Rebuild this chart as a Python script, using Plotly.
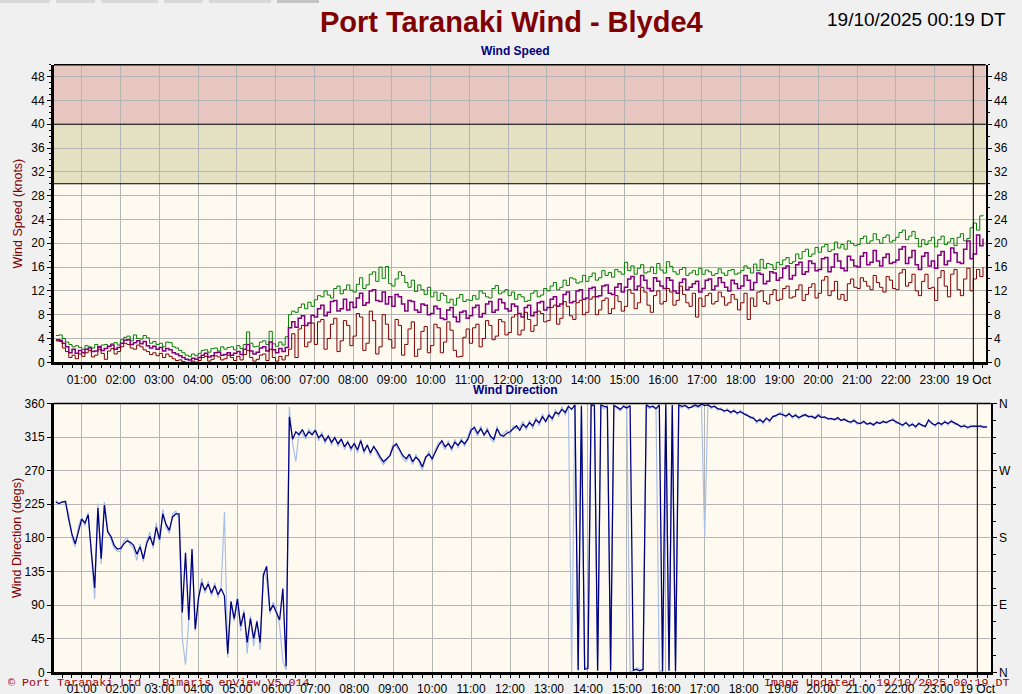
import pandas as pd
import plotly.graph_objects as go

# ---------------- data (5-minute samples from 2025-10-18 00:20) ----------------
START = "2025-10-18 00:20"
HOUR_LABELS = ["01:00", "02:00", "03:00", "04:00", "05:00", "06:00", "07:00", "08:00",
               "09:00", "10:00", "11:00", "12:00", "13:00", "14:00", "15:00", "16:00",
               "17:00", "18:00", "19:00", "20:00", "21:00", "22:00", "23:00", "19 Oct"]
SPEED_TICKS = [0, 4, 8, 12, 16, 20, 24, 28, 32, 36, 40, 44, 48]
DIR_TICKS = [0, 45, 90, 135, 180, 225, 270, 315, 360]
COMPASS_VALS = [0, 90, 180, 270, 360]
COMPASS_TEXT = ["N", "E", "S", "W", "N"]

GUST_KNOTS = [
    [4.5, 4.6, 4.0, 3.4, 3.0, 2.6, 2.8, 2.5],
    [2.2, 2.8, 2.6, 2.4, 3.0, 2.5, 2.9, 3.0, 2.6, 3.1, 3.3, 2.9],
    [3.8, 4.2, 4.4, 3.6, 4.6, 4.0, 3.9, 4.5, 4.1, 3.2, 3.5, 3.0],
    [3.2, 2.6, 3.4, 3.3, 2.6, 2.4, 2.0, 1.6, 1.2, 1.0, 1.4, 1.1],
    [1.5, 2.0, 2.1, 1.7, 2.3, 2.4, 1.9, 2.6, 2.2, 2.5, 2.6, 2.1],
    [2.8, 2.3, 3.0, 5.1, 3.2, 2.6, 2.7, 3.4, 3.6, 3.0, 5.2, 3.1],
    [2.7, 3.4, 2.9, 4.3, 8.0, 8.6, 8.4, 9.2, 9.8, 9.0, 10.1, 9.4],
    [10.5, 11.2, 11.0, 12.0, 11.3, 10.8, 12.4, 12.8, 11.5, 12.2, 13.0, 12.1],
    [11.8, 13.1, 14.2, 12.4, 13.0, 14.8, 15.2, 13.6, 16.0, 14.1, 16.1, 13.2],
    [12.8, 14.0, 15.2, 14.6, 13.4, 12.6, 13.8, 11.9, 13.0, 12.2, 11.4, 12.6],
    [11.0, 11.8, 10.4, 11.6, 11.2, 10.0, 10.6, 9.6, 10.8, 11.4, 10.2, 10.5],
    [10.4, 11.2, 10.6, 12.0, 11.6, 11.0, 10.8, 12.4, 12.9, 11.5, 11.8, 12.2],
    [11.2, 11.8, 10.6, 11.4, 11.0, 10.2, 10.4, 11.6, 12.0, 11.0, 11.3, 12.4],
    [12.0, 12.8, 13.4, 12.2, 12.6, 13.8, 12.9, 14.2, 14.0, 13.3, 13.5, 14.6],
    [13.6, 14.4, 15.0, 13.8, 14.2, 15.4, 14.6, 15.1, 14.3, 15.6, 15.2, 14.8],
    [16.8, 15.4, 16.2, 14.8, 15.8, 16.4, 15.0, 15.2, 16.0, 14.9, 16.6, 15.5],
    [15.0, 16.9, 16.1, 15.2, 14.8, 15.6, 15.9, 14.6, 15.0, 15.4, 14.7, 15.8],
    [14.8, 15.5, 15.2, 14.6, 14.9, 15.7, 15.0, 14.6, 15.4, 15.6, 14.8, 15.0],
    [15.4, 16.2, 15.8, 15.0, 16.5, 15.4, 17.3, 15.8, 16.6, 16.4, 15.6, 16.8],
    [16.4, 17.2, 17.6, 16.6, 16.9, 18.2, 17.4, 18.6, 19.0, 17.8, 18.2, 19.3],
    [18.5, 19.4, 19.8, 18.6, 18.9, 20.2, 19.2, 19.8, 19.0, 20.4, 20.0, 19.6],
    [19.8, 20.8, 21.2, 20.0, 20.4, 21.6, 20.6, 20.0, 21.0, 21.4, 20.2, 20.5],
    [21.0, 21.8, 22.2, 20.6, 21.2, 22.0, 20.8, 19.4, 20.6, 19.8, 20.4, 21.0],
    [19.4, 20.6, 21.2, 19.8, 20.2, 20.8, 19.6, 21.0, 21.6, 20.4, 20.8, 22.6],
    [23.4, 22.2, 24.6, 24.8],
]

AVG_KNOTS = [
    [3.8, 3.7, 3.2, 2.6, 1.6, 2.2, 1.5, 2.0],
    [1.6, 2.2, 2.4, 1.8, 1.9, 2.6, 2.0, 2.3, 2.7, 2.9, 2.2, 2.5],
    [3.2, 3.7, 3.8, 3.0, 3.3, 3.6, 3.1, 3.5, 2.8, 2.4, 2.7, 2.2],
    [2.5, 1.9, 2.3, 2.1, 1.6, 1.4, 1.1, 0.8, 0.5, 0.4, 0.7, 0.5],
    [0.8, 1.2, 1.5, 0.9, 1.1, 1.6, 1.7, 1.2, 1.3, 1.6, 1.2, 1.5],
    [1.8, 1.3, 2.2, 3.0, 1.9, 1.4, 1.7, 2.4, 2.6, 1.9, 3.4, 2.1],
    [1.6, 2.3, 1.8, 2.5, 5.8, 6.8, 5.9, 7.4, 7.8, 6.2, 6.6, 7.9],
    [7.6, 9.0, 9.6, 7.8, 8.4, 10.2, 10.4, 8.6, 9.0, 10.6, 8.8, 10.1],
    [9.2, 10.8, 11.6, 9.6, 10.0, 12.0, 12.2, 10.4, 10.2, 11.8, 9.8, 11.0],
    [9.4, 11.4, 11.0, 9.8, 8.6, 10.4, 10.2, 8.8, 8.4, 9.8, 9.6, 8.0],
    [8.2, 9.4, 9.0, 7.4, 7.2, 8.8, 9.2, 7.6, 6.8, 8.4, 8.6, 7.4],
    [7.8, 9.2, 9.6, 7.6, 8.2, 9.8, 10.2, 8.4, 8.8, 10.6, 10.0, 9.0],
    [8.6, 9.8, 9.4, 8.2, 7.6, 9.2, 9.6, 7.8, 8.4, 10.0, 10.2, 8.8],
    [9.2, 10.6, 11.0, 9.4, 9.8, 11.4, 11.8, 10.0, 10.2, 12.0, 12.2, 10.6],
    [10.8, 12.4, 12.6, 11.0, 11.2, 12.8, 13.0, 11.6, 11.4, 12.6, 13.2, 11.8],
    [12.6, 14.0, 14.4, 12.2, 12.8, 14.6, 13.8, 12.4, 12.0, 14.2, 13.6, 12.8],
    [12.4, 14.2, 13.8, 12.0, 11.6, 13.4, 14.0, 12.2, 12.6, 13.2, 13.6, 11.8],
    [12.4, 13.8, 14.0, 12.2, 12.8, 14.2, 13.4, 12.6, 12.0, 13.8, 13.2, 12.4],
    [12.8, 14.6, 13.8, 12.2, 13.4, 15.0, 14.8, 13.2, 13.6, 15.2, 15.0, 13.8],
    [14.2, 15.8, 16.2, 14.0, 14.6, 16.4, 16.8, 14.8, 15.2, 17.0, 16.6, 15.4],
    [15.6, 17.4, 17.6, 15.2, 16.0, 18.2, 17.0, 15.8, 15.4, 17.8, 17.2, 16.2],
    [16.0, 17.8, 18.4, 16.4, 16.8, 18.8, 17.0, 16.2, 17.6, 18.2, 16.6, 16.8],
    [17.2, 19.0, 19.4, 16.6, 17.6, 18.8, 16.4, 15.6, 17.8, 18.4, 16.2, 17.0],
    [15.8, 18.0, 18.6, 16.4, 17.0, 19.2, 18.4, 16.8, 16.6, 19.0, 20.4, 17.4],
    [18.2, 21.4, 19.6, 20.8],
]

MIN_KNOTS = [
    [3.6, 3.5, 2.4, 1.8, 0.8, 1.2, 0.6, 1.4],
    [1.0, 1.6, 2.0, 0.9, 1.2, 2.2, 1.5, 0.5, 1.9, 2.3, 1.4, 1.8],
    [2.6, 3.2, 3.0, 2.4, 2.2, 2.9, 2.6, 2.1, 1.8, 1.3, 1.6, 1.1],
    [1.5, 0.8, 1.4, 1.0, 0.6, 0.3, 0.4, 0.1, 0.0, 0.0, 0.2, 0.0],
    [0.3, 0.8, 1.0, 0.2, 0.5, 1.1, 0.9, 0.4, 0.6, 1.2, 0.8, 0.3],
    [1.0, 0.4, 1.3, 2.0, 0.8, 0.2, 0.5, 1.2, 1.4, 0.3, 2.2, 0.8],
    [0.2, 1.0, 0.4, 1.1, 2.2, 4.8, 0.8, 5.6, 6.2, 2.6, 3.4, 6.6],
    [3.0, 6.8, 7.2, 2.2, 4.0, 6.4, 7.4, 1.8, 3.6, 7.0, 6.2, 2.8],
    [4.4, 8.2, 7.6, 2.0, 3.2, 8.6, 7.0, 1.4, 2.6, 8.0, 6.4, 3.8],
    [2.4, 7.2, 6.2, 1.2, 3.0, 5.6, 6.8, 1.0, 2.2, 5.2, 6.0, 1.6],
    [2.8, 6.4, 5.8, 1.6, 3.4, 6.8, 5.4, 2.0, 0.9, 1.0, 4.2, 5.6],
    [3.2, 5.8, 6.4, 2.6, 4.0, 7.0, 6.2, 3.8, 4.4, 7.2, 6.8, 4.6],
    [5.0, 7.6, 8.0, 4.6, 5.4, 8.4, 7.2, 5.2, 6.2, 8.6, 8.2, 6.8],
    [7.0, 9.2, 9.6, 6.4, 7.4, 10.2, 9.4, 7.8, 7.2, 10.0, 10.4, 8.0],
    [8.4, 10.6, 11.0, 8.0, 8.8, 10.4, 10.8, 8.2, 9.0, 11.2, 10.2, 8.6],
    [9.4, 12.2, 11.6, 9.0, 10.0, 12.6, 11.8, 9.6, 8.4, 11.2, 12.0, 9.8],
    [10.2, 12.4, 11.8, 9.6, 10.4, 12.8, 11.4, 10.0, 9.4, 11.6, 7.6, 10.8],
    [9.4, 11.2, 11.6, 9.8, 10.2, 11.8, 11.0, 9.6, 10.0, 11.4, 10.6, 8.8],
    [10.0, 11.6, 7.2, 10.8, 9.4, 11.8, 12.0, 10.2, 9.8, 11.4, 12.2, 10.4],
    [10.6, 12.4, 12.8, 10.8, 11.0, 12.2, 13.0, 10.4, 11.4, 12.6, 13.2, 10.8],
    [11.6, 13.8, 14.4, 11.2, 12.0, 13.6, 10.6, 11.4, 10.4, 13.2, 14.0, 12.6],
    [12.4, 14.2, 13.6, 12.8, 12.2, 14.6, 13.4, 12.6, 11.8, 14.4, 13.8, 12.4],
    [12.2, 15.0, 15.6, 12.8, 13.4, 14.8, 12.0, 11.2, 13.6, 14.8, 12.4, 12.6],
    [10.4, 14.2, 15.4, 12.8, 11.0, 14.8, 15.6, 12.2, 11.2, 14.0, 15.8, 12.0],
    [14.0, 15.6, 14.4, 16.0],
]

DIR_DEGS = [
    [228, 226, 228, 229, 205, 185, 172, 190],
    [205, 200, 211, 160, 113, 220, 152, 224, 188, 182, 170, 165],
    [166, 172, 176, 174, 170, 158, 168, 152, 172, 182, 170, 194],
    [178, 212, 198, 190, 208, 212, 212, 80, 160, 70, 165, 58],
    [100, 120, 110, 118, 106, 116, 104, 112, 102, 25, 95, 72],
    [98, 62, 80, 40, 72, 45, 68, 40, 130, 142, 82, 90],
    [80, 70, 112, 8, 342, 312, 322, 318, 325, 316, 322, 318],
    [324, 314, 318, 310, 316, 308, 314, 306, 312, 302, 308, 300],
    [306, 298, 310, 296, 304, 294, 302, 296, 288, 282, 286, 290],
    [302, 306, 298, 290, 286, 292, 282, 288, 284, 275, 288, 292],
    [286, 296, 304, 310, 302, 306, 300, 308, 304, 310, 306, 312],
    [324, 328, 320, 326, 318, 324, 316, 312, 326, 318, 316, 320],
    [322, 326, 330, 324, 332, 328, 334, 330, 338, 334, 342, 336],
    [344, 340, 348, 346, 352, 348, 356, 352, 358, 3, 357, 4],
    [5, 358, 357, 2, 358, 356, 355, 2, 357, 355, 352, 356],
    [354, 357, 3, 4, 2, 4, 358, 355, 356, 353, 358, 1],
    [359, 2, 358, 1, 358, 356, 357, 354, 355, 358, 356, 359],
    [357, 358, 355, 356, 353, 352, 350, 351, 348, 350, 347, 349],
    [346, 344, 342, 340, 336, 338, 335, 340, 337, 342, 344, 346],
    [345, 343, 346, 342, 344, 341, 343, 345, 342, 343, 340, 344],
    [341, 342, 339, 340, 338, 341, 337, 339, 336, 335, 337, 334],
    [333, 336, 332, 334, 331, 335, 333, 336, 334, 337, 338, 335],
    [333, 331, 334, 330, 332, 329, 333, 331, 329, 338, 333, 331],
    [334, 332, 335, 333, 336, 334, 331, 329, 330, 328, 329, 330],
    [329, 330, 328, 329],
]

DIR_SPREAD_DEGS = [
    [230, 225, 229, 226, 212, 180, 168, 196],
    [208, 196, 214, 152, 98, 226, 145, 228, 192, 178, 166, 162],
    [162, 176, 180, 170, 166, 150, 172, 148, 176, 188, 166, 200],
    [172, 218, 194, 186, 212, 216, 205, 45, 10, 68, 158, 55],
    [96, 126, 106, 122, 102, 120, 100, 116, 215, 20, 92, 68],
    [102, 55, 84, 25, 76, 35, 70, 30, 136, 125, 78, 94],
    [84, 62, 15, 3, 355, 306, 282, 322, 320, 312, 326, 320],
    [326, 310, 322, 306, 318, 304, 316, 302, 314, 298, 310, 296],
    [308, 294, 312, 292, 306, 290, 304, 292, 284, 278, 284, 292],
    [306, 302, 296, 286, 282, 290, 278, 292, 280, 271, 286, 296],
    [282, 298, 308, 306, 298, 310, 296, 312, 300, 314, 302, 316],
    [328, 324, 316, 330, 316, 328, 312, 308, 330, 316, 320, 324],
    [318, 330, 326, 328, 336, 324, 338, 326, 342, 330, 346, 334],
    [348, 336, 352, 342, 356, 344, 356, 0, 358, 2, 355, 6],
    [8, 355, 359, 3, 356, 353, 358, 0, 359, 353, 350, 358],
    [352, 0, 2, 6, 4, 2, 356, 353, 358, 351, 0, 3],
    [357, 4, 356, 3, 356, 354, 359, 352, 357, 356, 354, 357],
    [182, 360, 353, 358, 351, 354, 348, 353, 346, 352, 345, 351],
    [344, 346, 340, 342, 333, 340, 332, 342, 334, 344, 342, 348],
    [347, 341, 348, 340, 346, 339, 345, 343, 344, 341, 342, 346],
    [343, 340, 341, 338, 340, 339, 339, 337, 338, 333, 339, 332],
    [335, 334, 334, 332, 333, 333, 335, 334, 336, 335, 340, 333],
    [335, 329, 336, 328, 334, 327, 335, 329, 331, 336, 335, 329],
    [336, 330, 337, 331, 338, 332, 333, 327, 332, 326, 331, 328],
    [331, 328, 330, 327],
]


def flat(blocks):
    return [v for b in blocks for v in b]


def times_for(vals):
    return pd.date_range(START, periods=len(vals), freq="5min")


gust = flat(GUST_KNOTS)
avg = flat(AVG_KNOTS)
mn = flat(MIN_KNOTS)
wdir = flat(DIR_DEGS)
wdir_sp = flat(DIR_SPREAD_DEGS)

HOUR_TICKS = pd.date_range("2025-10-18 01:00", periods=len(HOUR_LABELS), freq="h")
MIDNIGHT = pd.Timestamp("2025-10-19 00:00")
TOP_RANGE = [pd.Timestamp("2025-10-18 00:17:06"), pd.Timestamp("2025-10-19 00:19:12")]
BOT_RANGE = [pd.Timestamp("2025-10-18 00:17:20"), pd.Timestamp("2025-10-19 00:20:40")]

# ---------------- style ----------------
W, H = 1022, 694
PAGE_BG = "#F0F0F0"
PLOT_BG = "#FFFAF0"
GRID = "#B4B4B4"
FONT = "Liberation Sans, Arial, sans-serif"


def px_x(x):
    return x / W


def px_y(y):
    return 1 - y / H


TOP_DOM_X = [px_x(54), px_x(985.7)]
TOP_DOM_Y = [px_y(362.3), px_y(64.7)]
BOT_DOM_X = [px_x(54), px_x(990.7)]
BOT_DOM_Y = [px_y(672.3), px_y(403.4)]

fig = go.Figure()

fig.add_trace(go.Scatter(x=times_for(gust), y=gust, mode="lines", line=dict(color="#008000", width=1, shape="hv"),
                         xaxis="x", yaxis="y", hoverinfo="skip", showlegend=False))
fig.add_trace(go.Scatter(x=times_for(avg), y=avg, mode="lines", line=dict(color="#800080", width=1.5, shape="hv"),
                         xaxis="x", yaxis="y", hoverinfo="skip", showlegend=False))
fig.add_trace(go.Scatter(x=times_for(mn), y=mn, mode="lines", line=dict(color="#800000", width=1, shape="hv"),
                         xaxis="x", yaxis="y", hoverinfo="skip", showlegend=False))
fig.add_trace(go.Scatter(x=times_for(wdir_sp), y=wdir_sp, mode="lines", line=dict(color="#A9BFE6", width=1.2),
                         xaxis="x2", yaxis="y3", hoverinfo="skip", showlegend=False))
fig.add_trace(go.Scatter(x=times_for(wdir), y=wdir, mode="lines", line=dict(color="#000080", width=1.3),
                         xaxis="x2", yaxis="y3", hoverinfo="skip", showlegend=False))
# empty traces so that the right-hand (overlaying) axes get drawn
fig.add_trace(go.Scatter(x=[], y=[], mode="lines", xaxis="x", yaxis="y2", hoverinfo="skip", showlegend=False))
fig.add_trace(go.Scatter(x=[], y=[], mode="lines", xaxis="x2", yaxis="y4", hoverinfo="skip", showlegend=False))

tickfont = dict(family=FONT, size=12, color="black")
common_x = dict(type="date", tickmode="array", tickvals=HOUR_TICKS, ticktext=HOUR_LABELS, automargin=False,
                showgrid=True, gridcolor=GRID, gridwidth=1, showline=True, linecolor="black", linewidth=3,
                ticks="outside", ticklen=4, tickcolor="black", tickfont=tickfont, zeroline=False,
                minor=dict(ticks="outside", ticklen=3, dtick=15 * 60 * 1000, tickcolor="black", showgrid=False),
                fixedrange=True)

fig.update_layout(
    width=W, height=H, autosize=False,
    margin=dict(l=0, r=0, t=0, b=0, pad=0),
    paper_bgcolor=PAGE_BG, plot_bgcolor=PLOT_BG,
    font=dict(family=FONT, size=12, color="black"),
    showlegend=False,
    xaxis=dict(common_x, domain=TOP_DOM_X, anchor="y", range=TOP_RANGE),
    xaxis2=dict(common_x, domain=BOT_DOM_X, anchor="y3", range=BOT_RANGE, ticklen=3),
    yaxis=dict(domain=TOP_DOM_Y, anchor="x", range=[0, 50], tickmode="array", tickvals=SPEED_TICKS,
               automargin=False, showgrid=True, gridcolor=GRID, showline=True, linecolor="black", linewidth=3,
               ticks="outside", ticklen=4, tickcolor="black", tickfont=tickfont, zeroline=False,
               minor=dict(ticks="outside", ticklen=2, dtick=1, tickcolor="black", showgrid=False)),
    yaxis2=dict(overlaying="y", side="right", anchor="x", range=[0, 50], tickmode="array",
                tickvals=SPEED_TICKS, automargin=False, showgrid=False, showline=True, linecolor="black",
                linewidth=2, ticks="outside", ticklen=4, tickcolor="black", tickfont=tickfont, zeroline=False,
                minor=dict(ticks="outside", ticklen=2, dtick=2, tickcolor="black", showgrid=False)),
    yaxis3=dict(domain=BOT_DOM_Y, anchor="x2", range=[0, 360], tickmode="array", tickvals=DIR_TICKS,
                automargin=False, showgrid=True, gridcolor=GRID, showline=True, linecolor="black", linewidth=3,
                ticks="outside", ticklen=4, tickcolor="black", tickfont=tickfont, zeroline=False),
    yaxis4=dict(overlaying="y3", side="right", anchor="x2", range=[0, 360], tickmode="array",
                tickvals=COMPASS_VALS, ticktext=COMPASS_TEXT, automargin=False, showgrid=False, showline=True,
                linecolor="black", linewidth=2, ticks="outside", ticklen=4, tickcolor="black",
                tickfont=tickfont, zeroline=False,
                minor=dict(ticks="outside", ticklen=3, dtick=22.5, tickcolor="black", showgrid=False)),
)

shapes = []
# warning bands
shapes.append(dict(type="rect", xref="x domain", yref="y", x0=0, x1=1, y0=30, y1=40,
                   fillcolor="#E4E0C2", line=dict(width=0), layer="below"))
shapes.append(dict(type="rect", xref="x domain", yref="y", x0=0, x1=1, y0=40, y1=50,
                   fillcolor="#E6C6BF", line=dict(width=0), layer="below"))
for lvl in (30, 40):
    shapes.append(dict(type="line", xref="x domain", yref="y", x0=0, x1=1, y0=lvl, y1=lvl,
                       line=dict(color="black", width=1), layer="above"))
# midnight markers
shapes.append(dict(type="line", xref="x", yref="y domain", x0=MIDNIGHT, x1=MIDNIGHT, y0=0, y1=1,
                   line=dict(color="black", width=1), layer="above"))
shapes.append(dict(type="line", xref="x2", yref="y3 domain", x0=MIDNIGHT, x1=MIDNIGHT, y0=0, y1=1,
                   line=dict(color="black", width=1), layer="above"))
# top borders
shapes.append(dict(type="line", xref="x domain", yref="y domain", x0=0, x1=1, y0=1, y1=1,
                   line=dict(color="black", width=1.5), layer="above"))
shapes.append(dict(type="line", xref="x2 domain", yref="y3 domain", x0=0, x1=1, y0=1, y1=1,
                   line=dict(color="black", width=1.5), layer="above"))
# page tabs at the very top
for x0, x1, c in [(0, 50, "#D9D9D9"), (56, 95, "#D9D9D9"), (101, 158, "#D9D9D9"),
                  (164, 203, "#D9D9D9"), (209, 271, "#D9D9D9"), (277, 319, "#C4C4C4")]:
    shapes.append(dict(type="rect", xref="paper", yref="paper", x0=px_x(x0), x1=px_x(x1),
                       y0=px_y(3), y1=px_y(0), fillcolor=c, line=dict(width=0), layer="above"))
fig.update_layout(shapes=shapes)

ann = []
ann.append(dict(text="<b>Port Taranaki Wind - Blyde4</b>", x=px_x(511.5), y=px_y(21.5), xref="paper", yref="paper",
                xanchor="center", yanchor="middle", showarrow=False,
                font=dict(family=FONT, size=29, color="#800000")))
ann.append(dict(text="19/10/2025 00:19 DT", x=px_x(1008), y=px_y(20), xref="paper", yref="paper",
                xanchor="right", yanchor="middle", showarrow=False,
                font=dict(family=FONT, size=19, color="black")))
ann.append(dict(text="<b>Wind Speed</b>", x=px_x(515), y=px_y(51), xref="paper", yref="paper",
                xanchor="center", yanchor="middle", showarrow=False,
                font=dict(family=FONT, size=12, color="#000080")))
ann.append(dict(text="<b>Wind Direction</b>", x=px_x(515), y=px_y(390), xref="paper", yref="paper",
                xanchor="center", yanchor="middle", showarrow=False,
                font=dict(family=FONT, size=12, color="#000080")))
ann.append(dict(text="Wind Speed (knots)", x=px_x(17), y=px_y(213.5), xref="paper", yref="paper",
                xanchor="center", yanchor="middle", textangle=-90, showarrow=False,
                font=dict(family=FONT, size=12.5, color="#800000")))
ann.append(dict(text="Wind Direction (degs)", x=px_x(17), y=px_y(538), xref="paper", yref="paper",
                xanchor="center", yanchor="middle", textangle=-90, showarrow=False,
                font=dict(family=FONT, size=12.5, color="#800000")))
ann.append(dict(text="© Port Taranaki Ltd - Bimaris enView V5.014", x=px_x(6), y=px_y(683), xref="paper",
                yref="paper", xanchor="left", yanchor="middle", showarrow=False,
                font=dict(family="Liberation Mono, Courier New, monospace", size=11.7, color="#A00000")))
ann.append(dict(text="Image Updated : 19/10/2025 00:19 DT", x=px_x(1011), y=px_y(683), xref="paper",
                yref="paper", xanchor="right", yanchor="middle", showarrow=False,
                font=dict(family="Liberation Mono, Courier New, monospace", size=11.7, color="#A00000")))
fig.update_layout(annotations=ann)

PAGE_FIX = (
    "var s=document.createElement('style');"
    "s.textContent='html,body{margin:0!important;padding:0!important;overflow:hidden;"
    "background:#F0F0F0;width:1022px;height:694px;}';"
    "document.head.appendChild(s);"
)
fig.write_html("out.html", config={"displayModeBar": False}, post_script=PAGE_FIX)
